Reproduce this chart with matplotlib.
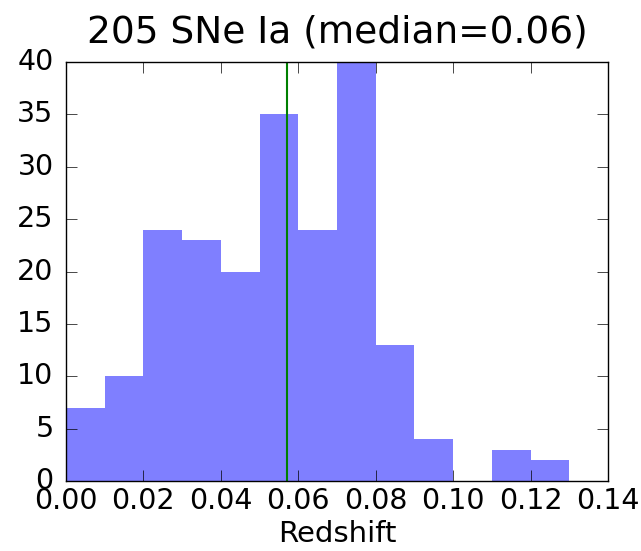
import numpy as np
import matplotlib
matplotlib.use("Agg")
import matplotlib.pyplot as plt

plt.style.use("classic")

# redshift histogram, bin width 0.01
bin_edges = np.round(np.arange(0.0, 0.131, 0.01), 2)
counts = [7, 10, 24, 23, 20, 35, 24, 40, 13, 4, 0, 3, 2]
median_z = 0.057
n_sne = 205
xticks = np.round(np.arange(0, 0.141, 0.02), 2)

fig = plt.figure(figsize=(6.41, 5.51), dpi=100, facecolor="white")
ax = fig.add_axes([66 / 641, 70 / 551, 542 / 641, 419 / 551])

ax.bar(bin_edges[:-1], counts, width=0.01, align="edge",
       color="blue", alpha=0.5, linewidth=0)
ax.axvline(median_z, color="g", linewidth=1.5)

ax.set_xlim(0, 0.14)
ax.set_ylim(0, 40)
ax.set_xticks(xticks)
ax.set_xticklabels(["%.2f" % v for v in xticks])
ax.tick_params(labelsize=20.5, length=8)
ax.tick_params(axis="x", pad=4)
ax.tick_params(axis="y", pad=9)
ax.set_xlabel("Redshift", fontsize=21, labelpad=4)
ax.set_title("%d SNe Ia (median=%.2f)" % (n_sne, median_z), fontsize=27, pad=14)

fig.savefig("out.png", dpi=100, facecolor="white")
